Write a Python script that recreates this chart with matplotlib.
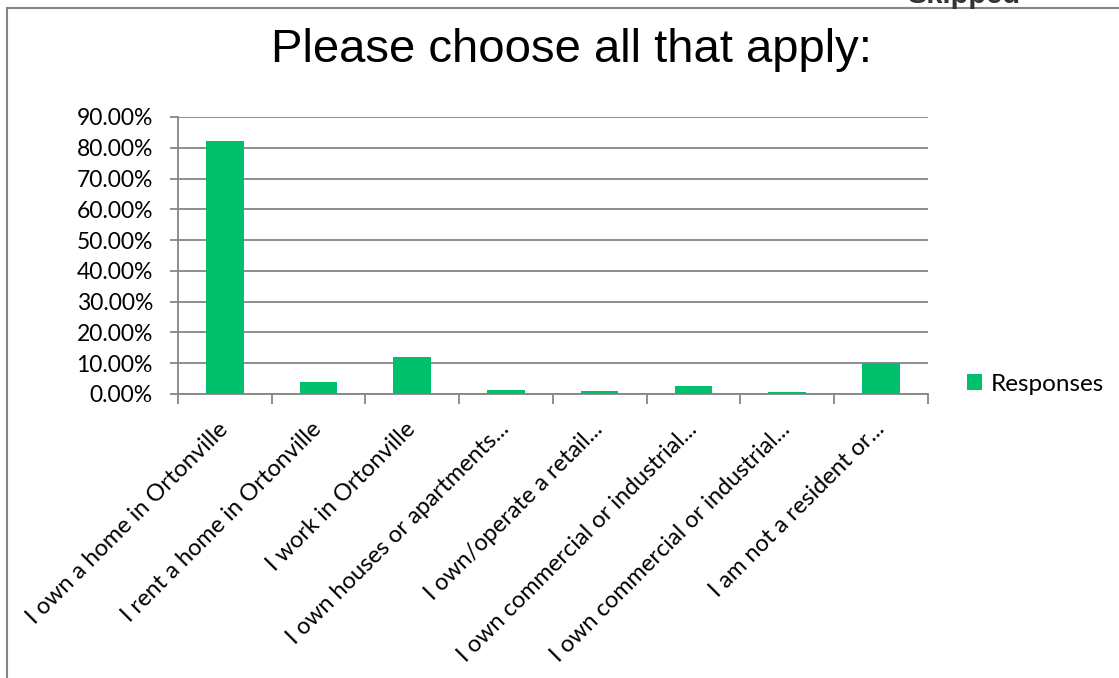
import matplotlib
matplotlib.use("Agg")
import matplotlib.pyplot as plt
from matplotlib.lines import Line2D
from matplotlib.ticker import PercentFormatter

# Données
categories = [
    "I own a home in Ortonville",
    "I rent a home in Ortonville",
    "I work in Ortonville",
    "I own houses or apartments...",
    "I own/operate a retail...",
    "I own commercial or industrial...",
    "I own commercial or industrial...",
    "I am not a resident or...",
]
reponses = [82.1, 3.8, 11.9, 1.2, 0.9, 2.6, 0.6, 10.1]

vert = "#00C06E"
gris = "#868686"

plt.rcParams["font.family"] = ["Lato", "DejaVu Sans"]

fig = plt.figure(figsize=(11.19, 6.78), dpi=100)
ax = fig.add_axes([0.159, 0.419, 0.670, 0.4085])

x = list(range(len(categories)))
ax.bar(x, reponses, width=0.4, color=vert, label="Responses", zorder=3)

ax.set_xlim(-0.5, len(categories) - 0.5)
ax.set_ylim(0, 90)
ax.set_yticks(range(0, 91, 10))
ax.yaxis.set_major_formatter(PercentFormatter(decimals=2))
ax.grid(axis="y", color=gris, linewidth=1.3, zorder=0)

ax.set_xticks(x)
ax.set_xticklabels(categories, rotation=45, ha="right", va="center",
                   rotation_mode="anchor", fontsize=17)
ax.tick_params(axis="x", length=0, pad=23)
ax.set_xticks([i - 0.5 for i in range(len(categories) + 1)], minor=True)
ax.tick_params(axis="x", which="minor", length=7, color=gris, width=1.3)
ax.tick_params(axis="y", length=6, color=gris, width=1.3, labelsize=16.5, pad=12)

for cote in ["top", "right"]:
    ax.spines[cote].set_visible(False)
for cote in ["left", "bottom"]:
    ax.spines[cote].set_color(gris)
    ax.spines[cote].set_linewidth(1.3)

fig.text(0.511, 1 - 62 / 678, "Please choose all that apply:", ha="center",
         va="baseline", fontsize=34, family=["Liberation Sans", "DejaVu Sans"])

ax.legend(loc="center left", bbox_to_anchor=(1.04, 0.035), frameon=False,
          fontsize=17.5, handlelength=0.6, handleheight=0.6, handletextpad=0.35,
          borderaxespad=0)

# Bordure du graphique
fig.add_artist(Line2D([7 / 1119, 7 / 1119], [0, 1 - 8 / 678], color=gris, linewidth=1.5))
fig.add_artist(Line2D([7 / 1119, 1], [1 - 8 / 678, 1 - 8 / 678], color=gris, linewidth=1.5))
fig.text(0.861, 1 - 3 / 678, "Skipped", ha="center", va="baseline", fontsize=21,
         fontweight="bold", color="#333333", family=["Liberation Sans", "DejaVu Sans"])

fig.savefig("out.png", dpi=100)
